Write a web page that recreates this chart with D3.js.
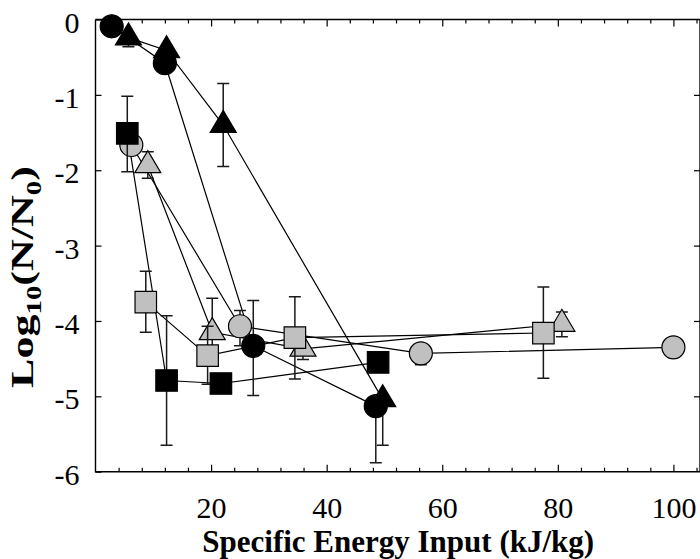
<!DOCTYPE html>
<html>
<head>
<meta charset="utf-8">
<script src="https://cdn.jsdelivr.net/npm/d3@7"></script>
<style>
  body { margin: 0; background: #fff; }
  svg { display: block; }
  text { font-family: "Liberation Serif", "Times New Roman", serif; fill: #000; }
</style>
</head>
<body>
<div id="chart"></div>
<script>
// Axis ticks
const xMajorTicks = [20, 40, 60, 80, 100];
const xMinorTicks = d3.range(4, 105, 4).filter(v => v % 20 !== 0);
const yTicks = [0, -1, -2, -3, -4, -5, -6];

// Specific energy input (kJ/kg) and log reduction for each treatment series
const blackCircleX = [2.8, 12.0, 27.3, 48.5];
const blackCircleY = [-0.09, -0.58, -4.33, -5.13];
const blackCircleErrUp = [0, 0, 0.60, 0];
const blackCircleErrDown = [0, 0, 0.66, 0.75];

const blackTriangleX = [5.7, 12.3, 22.1, 49.7];
const blackTriangleY = [-0.24, -0.41, -1.40, -5.04];
const blackTriangleErrUp = [0, 0, 0.55, 0];
const blackTriangleErrDown = [0.12, 0, 0.55, 0.61];

const blackSquareX = [5.5, 12.3, 21.7, 48.9];
const blackSquareY = [-1.51, -4.79, -4.83, -4.55];
const blackSquareErrUp = [0.49, 0.86, 0, 0];
const blackSquareErrDown = [0.51, 0.86, 0, 0];

const grayCircleX = [6.2, 25.0, 56.3, 100.0];
const grayCircleY = [-1.665, -4.07, -4.43, -4.35];
const grayCircleErrUp = [0, 0.21, 0, 0];
const grayCircleErrDown = [0, 0.26, 0.15, 0];

const grayTriangleX = [9.05, 20.2, 35.9, 80.7];
const grayTriangleY = [-1.935, -4.15, -4.37, -4.04];
const grayTriangleErrUp = [0.18, 0.45, 0, 0.16];
const grayTriangleErrDown = [0.17, 0.45, 0.14, 0.17];

const graySquareX = [8.7, 19.4, 34.5, 77.5];
const graySquareY = [-3.75, -4.46, -4.22, -4.16];
const graySquareErrUp = [0.41, 0.39, 0.54, 0.61];
const graySquareErrDown = [0.40, 0.38, 0.55, 0.60];

const GRAY = "#c0c0c0";
const BLACK = "#000000";

function build(shape, fill, xs, ys, up, down) {
  return { shape, fill, points: xs.map((x, i) => ({ x, y: ys[i], up: up[i], down: down[i] })) };
}

// Drawing order (later on top)
const series = [
  build("circle", GRAY, grayCircleX, grayCircleY, grayCircleErrUp, grayCircleErrDown),
  build("triangle", GRAY, grayTriangleX, grayTriangleY, grayTriangleErrUp, grayTriangleErrDown),
  build("square", GRAY, graySquareX, graySquareY, graySquareErrUp, graySquareErrDown),
  build("triangle", BLACK, blackTriangleX, blackTriangleY, blackTriangleErrUp, blackTriangleErrDown),
  build("square", BLACK, blackSquareX, blackSquareY, blackSquareErrUp, blackSquareErrDown),
  build("circle", BLACK, blackCircleX, blackCircleY, blackCircleErrUp, blackCircleErrDown)
];

const W = 700, H = 559;
const plotLeft = 95.5, plotRight = 700, plotTop = 19.5, plotBottom = 471.7;

const x = d3.scaleLinear().domain([0, 104.6]).range([plotLeft, plotRight]);
const y = d3.scaleLinear().domain([0, -6]).range([plotTop, plotBottom]);

const svg = d3.select("#chart").append("svg")
  .attr("width", W).attr("height", H);

// Frame
svg.append("path")
  .attr("d", `M${plotLeft},${plotTop}H${plotRight}M${plotLeft},${plotTop}V${plotBottom}H${plotRight}M${plotRight},${plotTop}V${plotBottom}`)
  .attr("stroke", "#000").attr("stroke-width", 1.4).attr("fill", "none");

function styleAxis(g) {
  g.select(".domain").remove();
  g.selectAll(".tick line").attr("stroke", "#000").attr("stroke-width", 1.2);
  g.selectAll("text").attr("font-size", 30).attr("fill", "#000")
    .attr("font-family", "'Liberation Serif','Times New Roman',serif");
}

// Plain hyphen-minus labels
const plainFormat = d => String(d);

// Bottom axis: minor and major inward ticks
svg.append("g").attr("transform", `translate(0,${plotBottom})`)
  .call(d3.axisBottom(x).tickValues(xMinorTicks).tickSize(-4).tickSizeOuter(0).tickFormat(""))
  .call(styleAxis);
svg.append("g").attr("transform", `translate(0,${plotBottom})`)
  .call(d3.axisBottom(x).tickValues(xMajorTicks).tickSize(-7).tickSizeOuter(0).tickPadding(25).tickFormat(plainFormat))
  .call(styleAxis);

// Top axis
svg.append("g").attr("transform", `translate(0,${plotTop})`)
  .call(d3.axisTop(x).tickValues(xMinorTicks).tickSize(-4).tickSizeOuter(0).tickFormat(""))
  .call(styleAxis);
svg.append("g").attr("transform", `translate(0,${plotTop})`)
  .call(d3.axisTop(x).tickValues(xMajorTicks).tickSize(-7).tickSizeOuter(0).tickFormat(""))
  .call(styleAxis);

// Left axis
const leftAxis = svg.append("g").attr("transform", `translate(${plotLeft},0)`)
  .call(d3.axisLeft(y).tickValues(yTicks).tickSize(-6).tickSizeOuter(0).tickPadding(16).tickFormat(plainFormat))
  .call(styleAxis);
leftAxis.selectAll("text").attr("dy", "0.42em");

// Right axis
svg.append("g").attr("transform", `translate(${plotRight},0)`)
  .call(d3.axisRight(y).tickValues(yTicks.slice(1, -1)).tickSize(-6).tickSizeOuter(0).tickFormat(""))
  .call(styleAxis);

// Connecting lines
const line = d3.line().x(d => x(d.x)).y(d => y(d.y));
svg.append("g").selectAll("path").data(series).join("path")
  .attr("d", s => line(s.points))
  .attr("fill", "none").attr("stroke", "#000").attr("stroke-width", 1.2);

// Marker outlines
const R = 11.5, SQ = 21.5, TB = 13, TH = 22;
function markerPath(shape) {
  if (shape === "circle") return d3.symbol(d3.symbolCircle, Math.PI * R * R)();
  if (shape === "square") return `M${-SQ/2},${-SQ/2}h${SQ}v${SQ}h${-SQ}Z`;
  return `M0,${-TH * 2 / 3}L${TB},${TH / 3}L${-TB},${TH / 3}Z`;
}

const CAP = 6;
series.forEach(s => {
  const g = svg.append("g");
  // Error bars
  const eb = g.append("g").attr("stroke", "#1a1a1a").attr("stroke-width", 1.5).attr("fill", "none");
  s.points.forEach(p => {
    if (p.up <= 0 && p.down <= 0) return;
    const cx = x(p.x), y1 = y(p.y + p.up), y2 = y(p.y - p.down);
    let d = `M${cx},${y1}V${y2}`;
    if (p.up > 0) d += `M${cx - CAP},${y1}H${cx + CAP}`;
    if (p.down > 0) d += `M${cx - CAP},${y2}H${cx + CAP}`;
    eb.append("path").attr("d", d);
  });
  // Markers
  g.selectAll("path.marker").data(s.points).join("path")
    .attr("class", "marker")
    .attr("transform", p => `translate(${x(p.x)},${y(p.y)})`)
    .attr("d", markerPath(s.shape))
    .attr("fill", s.fill)
    .attr("stroke", "#000")
    .attr("stroke-width", 1.2);
});

// X axis title
svg.append("text")
  .attr("x", (plotLeft + 700) / 2 + 0.5).attr("y", 552)
  .attr("text-anchor", "middle")
  .attr("font-size", 31).attr("font-weight", "bold")
  .text("Specific Energy Input (kJ/kg)");

// Y axis title with subscripts
const yTitle = svg.append("text")
  .attr("text-anchor", "middle")
  .attr("font-size", 32).attr("font-weight", "bold");
yTitle.append("tspan").text("Log");
yTitle.append("tspan").attr("font-size", 21).attr("dy", 8).text("10");
yTitle.append("tspan").attr("dy", -8).text("(N/N");
yTitle.append("tspan").attr("font-size", 21).attr("dy", 8).text("0");
yTitle.append("tspan").attr("dy", -8).text(")");
const natural = yTitle.node().getComputedTextLength();
const stretch = 222 / natural;
yTitle.attr("transform", `translate(33,277) rotate(-90) scale(${stretch},1)`);
</script>
</body>
</html>
